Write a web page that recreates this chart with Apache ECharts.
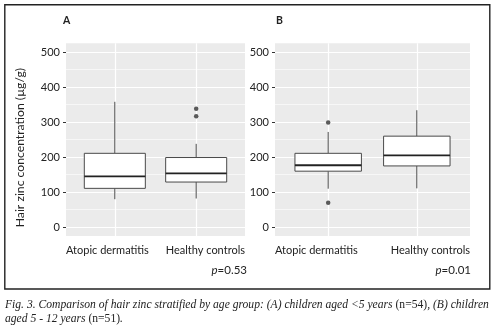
<!DOCTYPE html>
<html><head><meta charset="utf-8">
<script src="https://cdn.jsdelivr.net/npm/echarts@6/dist/echarts.min.js"></script>
<style>html,body{margin:0;padding:0;background:#fff}#c{width:495px;height:330px}</style>
</head><body><div id="c"></div>
<script>
// ---- data ----
const categories = ['Atopic dermatitis', 'Healthy controls'];
const yTicks = [0, 100, 200, 300, 400, 500];
const yMinorTicks = [50, 150, 250, 350, 450];
// [min, Q1, median, Q3, max]
const boxA_AD = [80, 111, 145, 211, 358];
const boxA_HC = [82, 129, 154, 199, 238];
const outliersA_HC = [338, 317];
const boxB_AD = [110, 160, 177, 211, 272];
const boxB_HC = [111, 175, 205, 260, 334];
const outliersB_AD = [299, 70];
const pA = '0.53';
const pB = '0.01';

const font = 'Lato';
const X_MIN = 0.4, X_MAX = 2.6;
const chart = echarts.init(document.getElementById('c'), null, {renderer: 'canvas'});

function boxItems(list) { return list.map((b, i) => [i + 1].concat(b)); }

function renderBox(params, api) {
  const x = api.value(0);
  const lo = api.coord([x, api.value(1)]);
  const q1 = api.coord([x, api.value(2)]);
  const md = api.coord([x, api.value(3)]);
  const q3 = api.coord([x, api.value(4)]);
  const hi = api.coord([x, api.value(5)]);
  const w = api.size([0.75, 0])[0];
  const cx = lo[0];
  const stroke = '#4a4a4a';
  return {
    type: 'group',
    children: [
      {type: 'line', shape: {x1: cx, y1: hi[1], x2: cx, y2: q3[1]}, style: {stroke: stroke, lineWidth: 1}},
      {type: 'line', shape: {x1: cx, y1: q1[1], x2: cx, y2: lo[1]}, style: {stroke: stroke, lineWidth: 1}},
      {type: 'rect', shape: {x: cx - w / 2, y: q3[1], width: w, height: q1[1] - q3[1]},
        style: {fill: '#fff', stroke: stroke, lineWidth: 1}},
      {type: 'line', shape: {x1: cx - w / 2, y1: md[1], x2: cx + w / 2, y2: md[1]},
        style: {stroke: '#222', lineWidth: 1.8}}
    ]
  };
}

function gridLines() {
  return {
    silent: true, symbol: 'none', label: {show: false}, animation: false,
    data: []
      .concat(yMinorTicks.map(v => ({yAxis: v, lineStyle: {color: '#fff', width: 0.6, type: 'solid'}})))
      .concat(yTicks.map(v => ({yAxis: v, lineStyle: {color: '#fff', width: 1.2, type: 'solid'}})))
      .concat(categories.map((c, i) => ({xAxis: i + 1, lineStyle: {color: '#fff', width: 1.2, type: 'solid'}})))
  };
}

function xAxis(gi) {
  return {
    type: 'value', gridIndex: gi, min: X_MIN, max: X_MAX,
    axisLine: {show: false}, splitLine: {show: false},
    axisTick: {show: true, length: 3, lineStyle: {color: '#333'}, customValues: [1, 2]},
    // labels flush with the panel edges, as in the reference
    axisLabel: {customValues: [X_MIN, X_MAX],
      formatter: v => (v < 1.5 ? categories[0] : categories[1]),
      alignMinLabel: 'left', alignMaxLabel: 'right',
      hideOverlap: false, showMinLabel: true, showMaxLabel: true,
      color: '#222', fontSize: 11, fontFamily: font, margin: 9}
  };
}
function yAxis(gi) {
  return {
    type: 'value', gridIndex: gi, min: -25, max: 525,
    axisLine: {show: false}, splitLine: {show: false},
    axisTick: {show: true, length: 3, lineStyle: {color: '#333'}, customValues: yTicks},
    axisLabel: {customValues: yTicks, color: '#222', fontSize: 11, fontFamily: font, margin: 6},
    name: gi === 0 ? 'Hair zinc concentration (\u00b5g/g)' : '',
    nameLocation: 'middle', nameGap: 40,
    nameTextStyle: {color: '#222', fontSize: 12.2, fontFamily: font, padding: [0, 16, 0, 0]}
  };
}

const pRich = {
  p: {fontFamily: font, fontStyle: 'italic', fontSize: 11.5, fill: '#222'},
  v: {fontFamily: font, fontSize: 11.5, fill: '#222'}
};
const capRich = {
  i: {fontFamily: 'Liberation Serif', fontStyle: 'italic', fontSize: 11.6, fill: '#222'},
  n: {fontFamily: 'Liberation Serif', fontSize: 11.6, fill: '#222'}
};

const option = {
  animation: false,
  backgroundColor: '#fff',
  grid: [
    {left: 66, top: 43.3, width: 179, height: 192.7, show: true, backgroundColor: '#EBEBEB', borderWidth: 0},
    {left: 275, top: 43.3, width: 195, height: 192.7, show: true, backgroundColor: '#EBEBEB', borderWidth: 0}
  ],
  xAxis: [xAxis(0), xAxis(1)],
  yAxis: [yAxis(0), yAxis(1)],
  series: [
    {type: 'scatter', xAxisIndex: 0, yAxisIndex: 0, data: [], markLine: gridLines(), z: 1},
    {type: 'scatter', xAxisIndex: 1, yAxisIndex: 1, data: [], markLine: gridLines(), z: 1},
    {type: 'custom', xAxisIndex: 0, yAxisIndex: 0, data: boxItems([boxA_AD, boxA_HC]), renderItem: renderBox, z: 5},
    {type: 'custom', xAxisIndex: 1, yAxisIndex: 1, data: boxItems([boxB_AD, boxB_HC]), renderItem: renderBox, z: 5},
    {type: 'scatter', xAxisIndex: 0, yAxisIndex: 0, data: outliersA_HC.map(v => [2, v]),
      symbolSize: 4.5, itemStyle: {color: '#333'}, z: 6},
    {type: 'scatter', xAxisIndex: 1, yAxisIndex: 1, data: outliersB_AD.map(v => [1, v]),
      symbolSize: 4.5, itemStyle: {color: '#333'}, z: 6}
  ],
  graphic: [
    {type: 'rect', shape: {x: 4.8, y: 4.8, width: 485, height: 284.2},
      style: {fill: 'none', stroke: '#222', lineWidth: 1.4}, z: 10},
    {type: 'text', left: 63, top: 15, style: {text: 'A', font: 'bold 10.5px ' + font, fill: '#222'}},
    {type: 'text', left: 276, top: 15, style: {text: 'B', font: 'bold 10.5px ' + font, fill: '#222'}},
    {type: 'text', x: 247, y: 270, style: {text: '{p|p}{v|=' + pA + '}', textAlign: 'right',
      textVerticalAlign: 'middle', rich: pRich}},
    {type: 'text', x: 471, y: 270, style: {text: '{p|p}{v|=' + pB + '}', textAlign: 'right',
      textVerticalAlign: 'middle', rich: pRich}},
    {type: 'text', x: 5, y: 305, style: {
      text: '{i|Fig. 3. Comparison of hair zinc stratified by age group: (A) children aged <5 years }{n|(n=54)}{i|, (B) children}',
      textVerticalAlign: 'middle', rich: capRich}},
    {type: 'text', x: 5, y: 319, style: {
      text: '{i|aged 5 - 12 years }{n|(n=51)}{i|.}',
      textVerticalAlign: 'middle', rich: capRich}}
  ]
};
chart.setOption(option);
</script>
</body></html>
